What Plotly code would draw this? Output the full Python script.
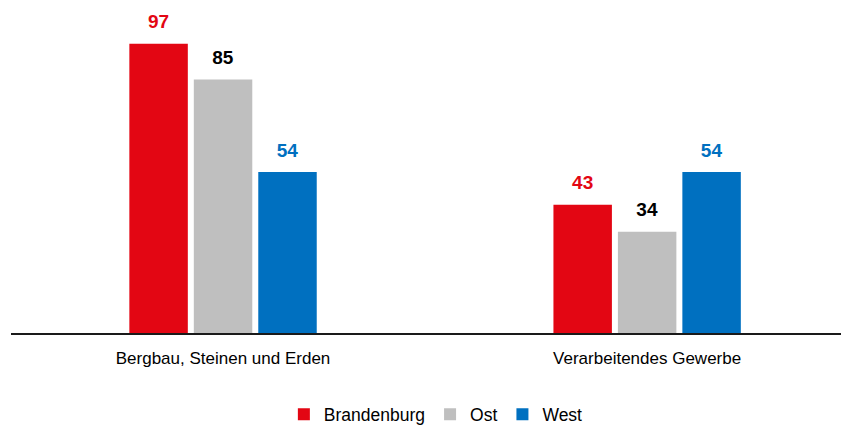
import plotly.graph_objects as go

categories = ['Bergbau, Steinen und Erden', 'Verarbeitendes Gewerbe']
brandenburg = [97, 43]
ost = [85, 34]
west = [54, 54]

font_name = 'Liberation Sans, Arial, sans-serif'

series = [
    ('Brandenburg', brandenburg, '#e30613', '#e30613'),
    ('Ost', ost, '#bfbfbf', '#000000'),
    ('West', west, '#0070c0', '#0070c0'),
]

fig = go.Figure()
for name, vals, col, txtcol in series:
    fig.add_trace(go.Bar(
        x=categories, y=vals,
        name=name,
        marker=dict(color=col, line=dict(width=0)),
        text=vals,
        # small spacer line keeps the value a bit above the bar
        texttemplate='<span style="font-size:19px"><b>%{y}</b></span><br> ',
        textposition='outside',
        constraintext='none',
        cliponaxis=False,
        textfont=dict(family=font_name, size=8, color=txtcol),
    ))

# page body has an 8px margin, so the figure is sized to the visible window
fig.update_layout(
    width=841, height=419,
    margin=dict(l=3, r=0, t=3, b=94),
    paper_bgcolor='white', plot_bgcolor='white',
    barmode='group',
    bargap=0.544,
    bargroupgap=0.093,
    font=dict(family=font_name, size=17, color='#000000'),
    showlegend=True,
    legend=dict(orientation='h', x=0.507, xanchor='center',
                yref='container', y=0.03, yanchor='middle',
                font=dict(size=17.5), itemwidth=30, traceorder='normal'),
    xaxis=dict(range=[-0.5, 1.476], showline=True, linecolor='#1a1a1a', linewidth=2,
               ticks='', ticklabelstandoff=9, tickfont=dict(size=17), showgrid=False),
    yaxis=dict(range=[0, 108], visible=False, showgrid=False),
)

fig.write_html('out.html')
